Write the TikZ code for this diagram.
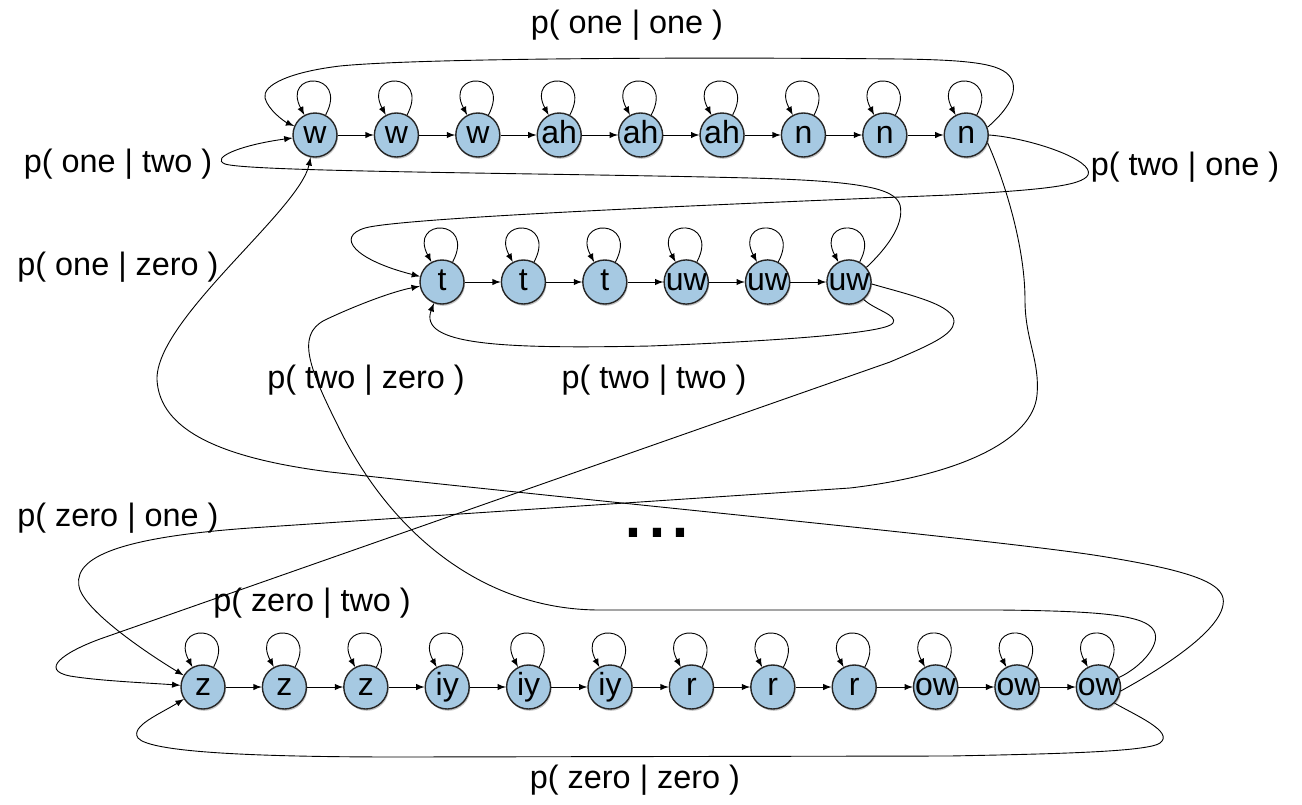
\documentclass[tikz,border=0pt]{standalone}
\usepackage{fontspec}
\setmainfont{Liberation Sans}
\usetikzlibrary{positioning,shadows}
\definecolor{phoneblue}{RGB}{166,201,226}
\tikzstyle{phone}=[circle,draw=black!85,line width=0.7pt,fill=phoneblue,
minimum size=22pt,inner sep=0pt,text height=8.5pt,text depth=0pt,
font=\fontsize{16}{16}\selectfont,
drop shadow={shadow xshift=0.5pt,shadow yshift=-0.9pt,opacity=0.45}]
\tikzstyle{prob}=[inner sep=0pt,font=\fontsize{16.2}{18}\selectfont]
\tikzstyle{selfloop}=[loop,out=62,in=118,distance=25pt]

\begin{document}
\begin{tikzpicture}[x=0.5pt,y=-0.5pt,node distance=40.7pt,line width=0.45pt]
            \useasboundingbox (0,0) rectangle (1302,804);

            % ONE

            \node[phone] (o1) at (315,135) {w};
            \node[phone, right of=o1] (o2) {w};
            \node[phone, right of=o2] (o3) {w};
            \node[phone, right of=o3] (o4) {ah};
            \node[phone, right of=o4] (o5) {ah};
            \node[phone, right of=o5] (o6) {ah};
            \node[phone, right of=o6] (o7) {n};
            \node[phone, right of=o7] (o8) {n};
            \node[phone, right of=o8] (o9) {n};

            \path[-latex] (o1) edge[selfloop] (o1) edge (o2);
            \path[-latex] (o2) edge[selfloop] (o2) edge (o3);
            \path[-latex] (o3) edge[selfloop] (o3) edge (o4);
            \path[-latex] (o4) edge[selfloop] (o4) edge (o5);
            \path[-latex] (o5) edge[selfloop] (o5) edge (o6);
            \path[-latex] (o6) edge[selfloop] (o6) edge (o7);
            \path[-latex] (o7) edge[selfloop] (o7) edge (o8);
            \path[-latex] (o8) edge[selfloop] (o8) edge (o9);
            \path[-latex] (o9) edge[selfloop] (o9);

            % TWO

            \node[phone] (t1) at (442,282) {t};
            \node[phone, right of=t1] (t2) {t};
            \node[phone, right of=t2] (t3) {t};
            \node[phone, right of=t3] (t4) {uw};
            \node[phone, right of=t4] (t5) {uw};
            \node[phone, right of=t5] (t6) {uw};

            \path[-latex] (t1) edge[selfloop] (t1) edge (t2);
            \path[-latex] (t2) edge[selfloop] (t2) edge (t3);
            \path[-latex] (t3) edge[selfloop] (t3) edge (t4);
            \path[-latex] (t4) edge[selfloop] (t4) edge (t5);
            \path[-latex] (t5) edge[selfloop] (t5) edge (t6);
            \path[-latex] (t6) edge[selfloop] (t6);

            % ZERO

            \node[phone] (z1) at (203,687) {z};
            \node[phone, right of=z1] (z2) {z};
            \node[phone, right of=z2] (z3) {z};
            \node[phone, right of=z3] (z4) {iy};
            \node[phone, right of=z4] (z5) {iy};
            \node[phone, right of=z5] (z6) {iy};
            \node[phone, right of=z6] (z7) {r};
            \node[phone, right of=z7] (z8) {r};
            \node[phone, right of=z8] (z9) {r};
            \node[phone, right of=z9] (z10) {ow};
            \node[phone, right of=z10] (z11) {ow};
            \node[phone, right of=z11] (z12) {ow};

            \path[-latex] (z1) edge[selfloop] (z1) edge (z2);
            \path[-latex] (z2) edge[selfloop] (z2) edge (z3);
            \path[-latex] (z3) edge[selfloop] (z3) edge (z4);
            \path[-latex] (z4) edge[selfloop] (z4) edge (z5);
            \path[-latex] (z5) edge[selfloop] (z5) edge (z6);
            \path[-latex] (z6) edge[selfloop] (z6) edge (z7);
            \path[-latex] (z7) edge[selfloop] (z7) edge (z8);
            \path[-latex] (z8) edge[selfloop] (z8) edge (z9);
            \path[-latex] (z9) edge[selfloop] (z9) edge (z10);
            \path[-latex] (z10) edge[selfloop] (z10) edge (z11);
            \path[-latex] (z11) edge[selfloop] (z11) edge (z12);
            \path[-latex] (z12) edge[selfloop] (z12);

            % Word transitions

            \draw[-latex] (o9.20) .. controls (1005,112) and (1018,95) .. (1012,80) .. controls (1005,65) and (980,60) .. (900,59) .. controls (700,57) and (420,58) .. (340,66) .. controls (290,72) and (262,85) .. (265,98) .. controls (268,110) and (285,122) .. (o1);
            \draw[-latex] (o9.0) .. controls (1030,138) and (1095,160) .. (1088,175) .. controls (1082,186) and (1040,190) .. (950,195) .. controls (700,205) and (400,218) .. (365,228) .. controls (335,237) and (355,260) .. (t1);
            \draw[-latex] (o9.-20) .. controls (1000,170) and (1025,240) .. (1025,300) .. controls (1025,340) and (1040,360) .. (1037,395) .. controls (1033,440) and (960,475) .. (850,488) -- (250,528) .. controls (110,538) and (70,560) .. (80,590) .. controls (90,615) and (150,655) .. (z1);
            \draw[-latex] (t6.40) .. controls (885,250) and (905,225) .. (900,205) .. controls (895,188) and (860,181) .. (750,178) .. controls (550,173) and (250,172) .. (225,164) .. controls (210,158) and (240,145) .. (o1);
            \draw[-latex] (t6.-50) .. controls (875,310) and (898,315) .. (893,323) .. controls (888,332) and (800,340) .. (650,346) .. controls (500,349) and (418,345) .. (t1);
            \draw[-latex] (t6.-5) .. controls (910,295) and (955,305) .. (954,322) .. controls (953,335) and (930,345) .. (890,362) -- (100,639) .. controls (62,653) and (40,670) .. (70,676) .. controls (100,681) and (150,683) .. (z1);
            \draw[-latex] (z12.-10) .. controls (1150,675) and (1218,635) .. (1223,605) .. controls (1227,585) and (1200,572) .. (1100,556) .. controls (1000,540) and (600,502) .. (330,472) .. controls (220,458) and (160,430) .. (157,380) .. controls (155,320) and (300,210) .. (o1);
            \draw[-latex] (z12.25) .. controls (1140,668) and (1165,642) .. (1152,628) .. controls (1140,614) and (1090,611) .. (1000,610) -- (600,610) .. controls (480,610) and (390,530) .. (340,430) .. controls (310,370) and (295,335) .. (325,320) .. controls (350,308) and (390,292) .. (t1);
            \draw[-latex] (z12.-45) .. controls (1135,715) and (1175,732) .. (1160,743) .. controls (1148,752) and (1050,754) .. (950,756) -- (400,757) .. controls (250,757) and (150,752) .. (138,738) .. controls (130,726) and (160,714) .. (z1);

            % Probabilities

            \node[prob] (oneone) at (627,25) {p( one | one )};
            \node[prob] (onetwo) at (118,164) {p( one | two )};
            \node[prob] (twoone) at (1185,167) {p( two | one )};
            \node[prob] (onezero) at (118,267) {p( one | zero )};
            \node[prob] (twozero) at (366,380) {p( two | zero )};
            \node[prob] (twotwo) at (654,380) {p( two | two )};
            \node[prob] (zeroone) at (118,518) {p( zero | one )};
            \node[prob] (zerotwo) at (312,603) {p( zero | two )};
            \node[prob] (zerozero) at (635,780) {p( zero | zero )};
            \node[inner sep=0pt,anchor=base,font=\fontsize{43}{43}\selectfont] (dots) at (657,537) {...};

        \end{tikzpicture}
\end{document}
